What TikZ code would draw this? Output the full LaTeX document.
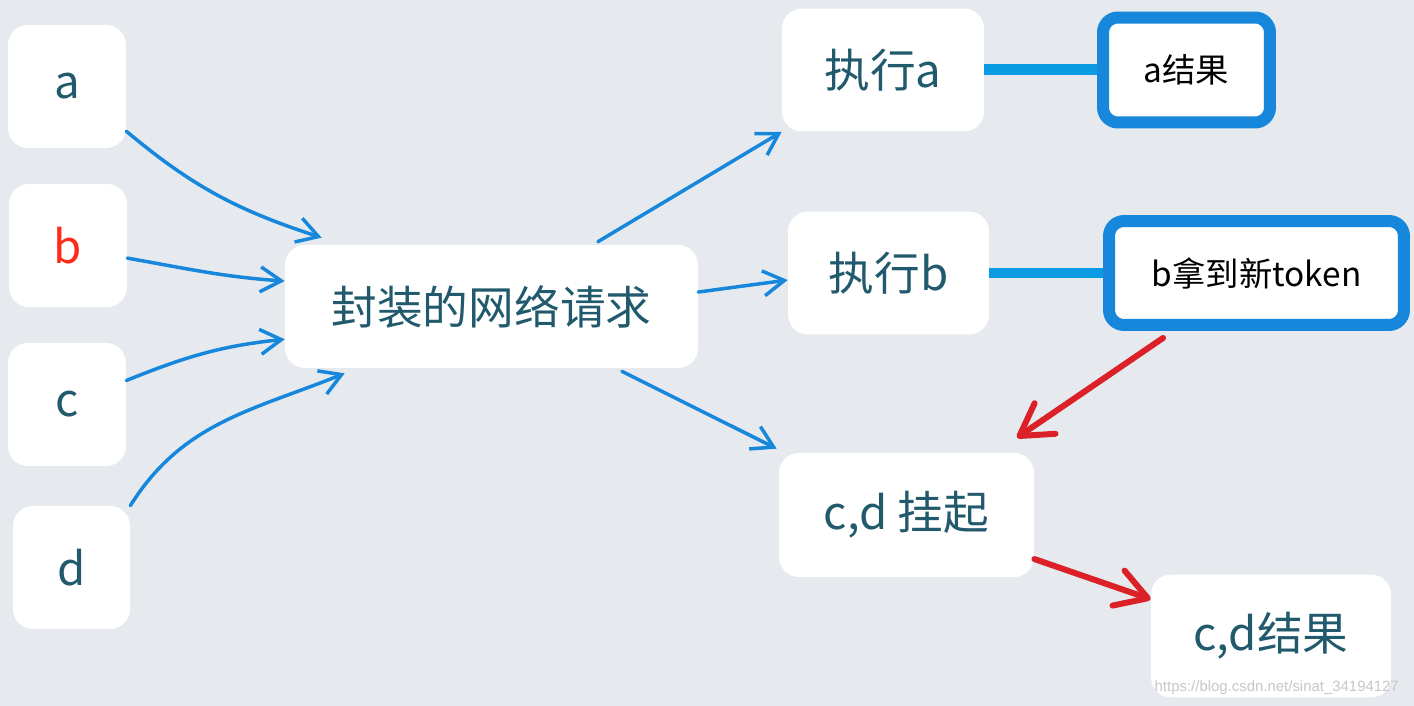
\documentclass[tikz,border=0pt]{standalone}
\usepackage{fontspec}
\setmainfont{Noto Sans CJK SC}
\newfontfamily\markfont{Liberation Sans}
\usetikzlibrary{arrows.meta}

\definecolor{bggray}{HTML}{E6EAEE}
\definecolor{tealtext}{HTML}{215A6D}
\definecolor{flowblue}{HTML}{1787DC}
\definecolor{linkblue}{HTML}{0A9BE2}
\definecolor{alertred}{HTML}{DC2027}
\definecolor{bred}{HTML}{FF2A1A}

\begin{document}
\begin{tikzpicture}[
  x=0.02cm, y=-0.02cm,
  card/.style={rectangle, fill=white, rounded corners=0.4cm, minimum height=2.46cm, inner sep=0pt, text=tealtext, font=\fontsize{26}{30}\selectfont},
  letter/.style={card, minimum width=2.36cm},
  result/.style={rectangle, draw=flowblue, line width=0.24cm, fill=white, rounded corners=0.3cm, minimum height=2.1cm, inner sep=0pt, text=black, font=\fontsize{19}{23}\selectfont},
  flow/.style={-{Straight Barb[length=0.42cm, width=0.5cm]}, flowblue, line width=0.07cm, line cap=round},
  alert/.style={-{Straight Barb[round, length=0.62cm, width=0.74cm]}, alertred, line width=0.12cm, line cap=round},
  link/.style={linkblue, line width=0.22cm}
]
\fill[bggray] (0,0) rectangle (1414,706);

% inputs
\node[letter] (a) at (67,86.5) {a};
\node[letter, text=bred] (b) at (68,245.5) {b};
\node[letter] (c) at (67,404.5) {c};
\node[letter, minimum width=2.34cm] (d) at (71.5,567.5) {d};

\node[card, minimum width=8.26cm] (hub) at (491.5,306.5) {封装的网络请求};

% outputs
\node[card, minimum width=4.04cm] (execA) at (883,70) {执行a};
\node[card, minimum width=4.02cm] (execB) at (888.5,273) {执行b};
\node[card, minimum width=5.1cm, minimum height=2.48cm] (hang) at (906.5,515) {c,d 挂起};
\node[card, minimum width=4.8cm] (cdres) at (1271,636) {c,d结果};

\node[result, minimum width=3.34cm] (resA) at (1186.5,70) {a结果};
\node[result, minimum width=5.9cm, minimum height=2.08cm] (token) at (1256.5,273) {b拿到新token};
\draw[link] (execA) -- (resA);
\draw[link] (execB) -- (token);

\draw[flow] (a.-37) to[out=-40, in=162] ([xshift=0.74cm, yshift=0.14cm]hub.north west);
\draw[flow] (b.-12) to[out=-10, in=176] (hub.173.5);
\draw[flow] (c.22) to[out=22, in=186] (hub.189.5);
\draw[flow] (d.north east) to[out=58, in=202] ([xshift=1.2cm, yshift=-0.1cm]hub.south west);

\draw[flow] ([xshift=2.13cm, yshift=0.06cm]hub.north) -- (execA.south west);
\draw[flow] (hub.4.8) -- (execB.184.8);
\draw[flow] ([xshift=2.61cm, yshift=-0.06cm]hub.south) -- ([xshift=-0.04cm, yshift=0.08cm]hang.north west);

\draw[alert] ([xshift=-1.87cm, yshift=-0.14cm]token.south) -- ([xshift=2.21cm, yshift=0.3cm]hang.north);
\draw[alert] (hang.-19.4) -- (cdres.163.7);

\node[font=\markfont\fontsize{8.5}{10}\selectfont, text=black!22, anchor=east] (mark) at (1405,688) {https://blog.csdn.net/sinat\_34194127};
\end{tikzpicture}
\end{document}
